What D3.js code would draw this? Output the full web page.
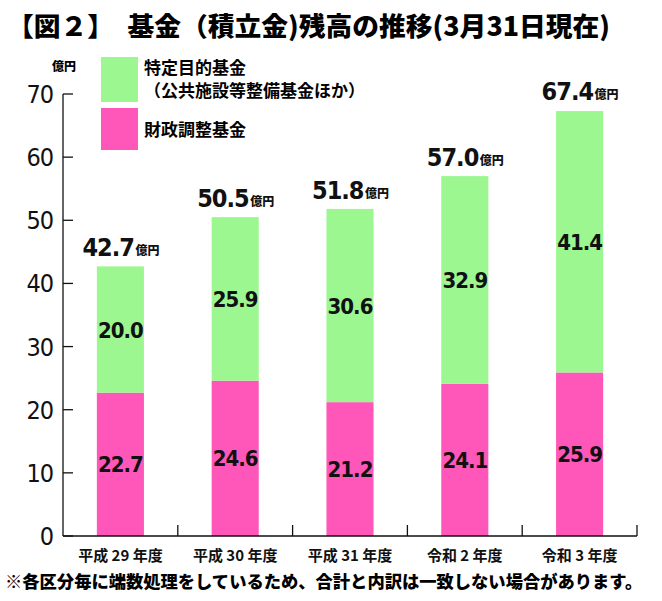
<!DOCTYPE html>
<html><head><meta charset="utf-8">
<script src="https://cdn.jsdelivr.net/npm/d3@7"></script>
<style>
body{margin:0;background:#fff;}
svg{display:block;}
text{font-family:"Noto Sans CJK JP","Noto Sans",sans-serif;}
.num{font-family:"DejaVu Sans Condensed","DejaVu Sans",sans-serif;font-stretch:condensed;}
</style></head>
<body>
<script>
const categories = ["平成 29 年度","平成 30 年度","平成 31 年度","令和 2 年度","令和 3 年度"];
const zaiseiValues = [22.7, 24.6, 21.2, 24.1, 25.9];
const tokuteiValues = [20.0, 25.9, 30.6, 32.9, 41.4];
const totalValues = [42.7, 50.5, 51.8, 57.0, 67.4];
const yTicks = [0,10,20,30,40,50,60,70];
const seriesNames = ["財政調整基金","特定目的基金"];
const colors = {"財政調整基金":"#ff57b9","特定目的基金":"#9cf791"};

const W=662,H=601;
const svg=d3.select("body").append("svg").attr("width",W).attr("height",H);
const x0=63,x1=637,yBase=536,yTop=94;
const x=d3.scaleBand().domain(categories).range([x0,x1]).paddingInner(0).paddingOuter(0);
const y=d3.scaleLinear().domain([0,70]).range([yBase,yTop]);
const bw=x.bandwidth()*0.41;

const rows=categories.map((c,i)=>({cat:c,"財政調整基金":zaiseiValues[i],"特定目的基金":tokuteiValues[i],total:totalValues[i]}));
const stack=d3.stack().keys(seriesNames)(rows);

// title
svg.append("text").attr("x",7).attr("y",36).attr("font-size",26).attr("font-weight",900)
  .attr("textLength",603).attr("lengthAdjust","spacingAndGlyphs")
  .text("【図２】　基金（積立金)残高の推移(3月31日現在)");

// bars
stack.forEach(s=>{
  svg.append("g").selectAll("rect").data(s).join("rect")
    .attr("x",d=>x(d.data.cat)+x.bandwidth()/2-bw/2)
    .attr("width",bw)
    .attr("y",d=>y(d[1]))
    .attr("height",d=>y(d[0])-y(d[1]))
    .attr("fill",colors[s.key]);
  svg.append("g").selectAll("text").data(s).join("text")
    .attr("class","num")
    .attr("x",d=>x(d.data.cat)+x.bandwidth()/2)
    .attr("y",d=>(y(d[0])+y(d[1]))/2+8)
    .attr("text-anchor","middle").attr("font-size",22).attr("font-weight",700)
    .attr("letter-spacing",-1)
    .attr("fill","#111")
    .text(d=>d.data[s.key].toFixed(1));
});

// axes
const ax=svg.append("g").attr("stroke","#111").attr("stroke-width",1.3).attr("fill","none");
ax.append("line").attr("x1",x0).attr("x2",x0).attr("y1",yTop).attr("y2",yBase);
ax.append("line").attr("x1",x0).attr("x2",x1).attr("y1",yBase).attr("y2",yBase);
yTicks.forEach(t=>{
  ax.append("line").attr("x1",x0).attr("x2",x0+10).attr("y1",y(t)).attr("y2",y(t));
});
categories.forEach((c,i)=>{
  const xe=x(c)+x.bandwidth();
  ax.append("line").attr("x1",xe).attr("x2",xe).attr("y1",yBase).attr("y2",yBase-11);
});
svg.append("g").selectAll("text").data(yTicks).join("text")
  .attr("class","num")
  .attr("x",53).attr("y",t=>y(t)+9).attr("text-anchor","end")
  .attr("font-size",25).attr("font-weight",400)
  .attr("letter-spacing",-1)
  .attr("fill","#111").text(t=>t);
svg.append("text").attr("x",52).attr("y",71).attr("font-size",12).attr("font-weight",900).text("億円");

// x labels
svg.append("g").selectAll("text").data(categories).join("text")
  .attr("x",c=>x(c)+x.bandwidth()/2).attr("y",561).attr("text-anchor","middle")
  .attr("font-size",15).attr("font-weight",700).attr("fill","#111").text(c=>c);

// totals
const tg=svg.append("g").selectAll("g").data(rows).join("g")
  .attr("transform",d=>`translate(${x(d.cat)+x.bandwidth()/2},${y(d.total)-10})`);
tg.append("text").attr("class","num").attr("x",-38).attr("y",0).attr("font-size",25).attr("font-weight",700)
  .attr("letter-spacing",-1)
  .attr("fill","#111").text(d=>d.total.toFixed(1));
tg.append("text").attr("x",15).attr("y",-1).attr("font-size",12).attr("font-weight",900)
  .attr("fill","#111").text("億円");

// legend
svg.append("rect").attr("x",101).attr("y",57).attr("width",37).attr("height",45).attr("fill",colors["特定目的基金"]);
svg.append("rect").attr("x",101).attr("y",108).attr("width",37).attr("height",42).attr("fill",colors["財政調整基金"]);
svg.append("text").attr("x",144).attr("y",74).attr("font-size",17).attr("font-weight",700).text("特定目的基金");
svg.append("text").attr("x",144).attr("y",97).attr("font-size",17).attr("font-weight",700).text("（公共施設等整備基金ほか）");
svg.append("text").attr("x",144).attr("y",136).attr("font-size",17).attr("font-weight",700).text("財政調整基金");

// footnote
svg.append("text").attr("x",5).attr("y",588).attr("font-size",17.3).attr("font-weight",900)
  .text("※各区分毎に端数処理をしているため、合計と内訳は一致しない場合があります。");
</script>
</body></html>
